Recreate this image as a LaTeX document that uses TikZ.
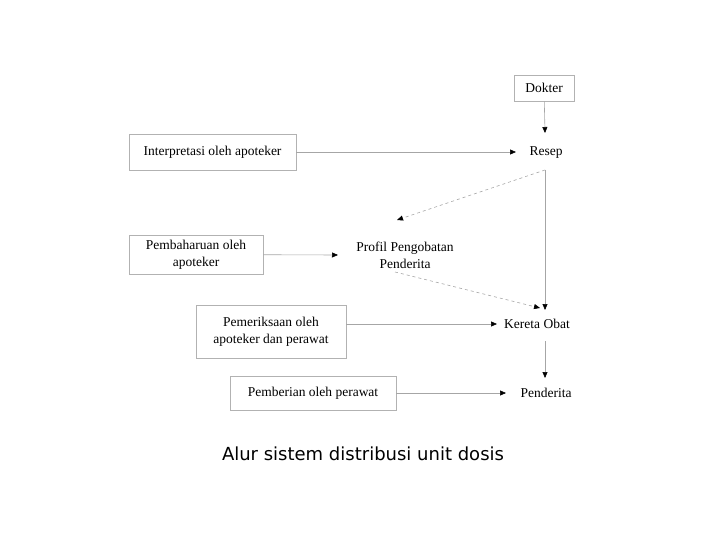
\documentclass[tikz,border=0pt]{standalone}
\usepackage{fontspec}
\setmainfont{Liberation Serif}
\newfontfamily\capfont{DejaVu Sans}
\usetikzlibrary{arrows.meta}

\begin{document}
\begin{tikzpicture}[x=1pt,y=-1pt,font=\fontsize{13.5}{17}\selectfont,
    flowbox/.style={draw=gray!60,line width=0.8pt,inner sep=0pt,align=center},
    plain/.style={align=center},
    flow/.style={draw=gray!70,line width=0.6pt,-{Triangle[black,length=6pt,width=5pt]}},
    dflow/.style={flow,dashed}]
\useasboundingbox (0,0) rectangle (720,540);
%boxes on the left, drawn with their size
\node[flowbox,minimum width=60,minimum height=26] (dokter) at (544,88) {Dokter};
\node[flowbox,minimum width=167,minimum height=36] (interp) at (212.5,152) {Interpretasi oleh apoteker};
\node[flowbox,minimum width=134,minimum height=39] (pemb) at (196,254.5) {Pembaharuan oleh\\apoteker};
\node[flowbox,minimum width=150,minimum height=53] (periksa) at (271,331.5) {Pemeriksaan oleh\\apoteker dan perawat};
\node[flowbox,minimum width=166,minimum height=34] (beri) at (313,393) {Pemberian oleh perawat};
% the plain labels on the right
\node[plain] (resep) at (546,153) {Resep};
\node[plain] (profil) at (405,255) {Profil Pengobatan\\Penderita};
\node[plain] (kereta) at (537,324) {Kereta Obat};
\node[plain] (pend) at (546,393) {Penderita};
% connectors
\coordinate (pe) at (346,324);
\draw[flow] (dokter) -- (545,133);
\draw[flow] (interp) -- (516,152);
\draw[flow] (pemb) -- (338,255);
\draw[flow] (pe) -- (497,324);
\draw[flow] (beri) -- (506,393);
\draw[flow] (545,170) -- (545,310);
\draw[dflow] (545,170) -- (397,220);
\draw[dflow] (395,272) -- (540,308);
\draw[flow] (545,341) -- (545,378);
\node[font=\capfont\fontsize{18}{20}\selectfont] (caption) at (363,454) {Alur sistem distribusi unit dosis};
\end{tikzpicture}
\end{document}
